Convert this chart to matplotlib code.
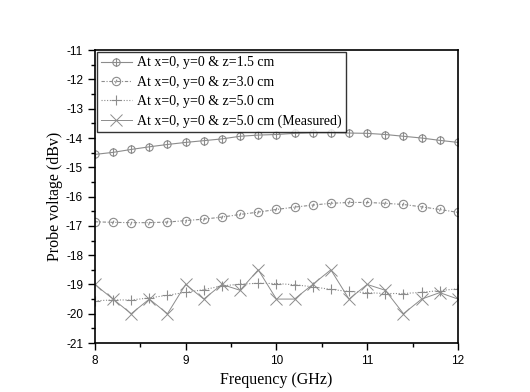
import matplotlib
matplotlib.use("Agg")
import matplotlib.pyplot as plt
from matplotlib.path import Path
from matplotlib.ticker import MultipleLocator

plt.rcParams["axes.unicode_minus"] = False

freq = [8.0, 8.2, 8.4, 8.6, 8.8, 9.0, 9.2, 9.4, 9.6, 9.8, 10.0,
        10.2, 10.4, 10.6, 10.8, 11.0, 11.2, 11.4, 11.6, 11.8, 12.0]
z15 = [-14.56, -14.49, -14.39, -14.30, -14.22, -14.15, -14.09, -14.03, -13.94, -13.90, -13.88,
       -13.84, -13.82, -13.82, -13.83, -13.84, -13.88, -13.94, -14.00, -14.08, -14.15]
z30 = [-16.86, -16.88, -16.89, -16.89, -16.87, -16.82, -16.77, -16.70, -16.61, -16.53, -16.44,
       -16.36, -16.29, -16.23, -16.20, -16.20, -16.23, -16.27, -16.35, -16.44, -16.54]
z50 = [-19.56, -19.53, -19.53, -19.46, -19.37, -19.27, -19.18, -19.05, -18.99, -18.96, -18.97,
       -19.01, -19.08, -19.17, -19.24, -19.28, -19.31, -19.31, -19.27, -19.21, -19.15]
z50m = [-19.0, -19.5, -20.0, -19.5, -20.0, -19.0, -19.5, -19.0, -19.2, -18.5, -19.5,
        -19.5, -19.0, -18.5, -19.5, -19.0, -19.2, -20.0, -19.5, -19.28, -19.5]
labels = ["At x=0, y=0 & z=1.5 cm", "At x=0, y=0 & z=3.0 cm",
          "At x=0, y=0 & z=5.0 cm", "At x=0, y=0 & z=5.0 cm (Measured)"]

gray = "#8c8c8c"

phi = Path.make_compound_path(Path.unit_circle(), Path([(0, -1.25), (0, 1.25)]))
circ_tick = Path.make_compound_path(Path.unit_circle(), Path([(-0.25, -0.45), (0.1, 0.45)]))

fig = plt.figure(figsize=(5.30, 3.92), dpi=100)
ax = fig.add_axes([0.179, 0.125, 0.685, 0.747])

ax.plot(freq, z15, color=gray, lw=0.8, ls="-", marker=phi, ms=6.5, mfc="none",
        mec=gray, mew=0.8, label=labels[0])
ax.plot(freq, z30, color=gray, lw=0.8, ls=(0, (3, 1.5, 1, 1.5)), marker=circ_tick, ms=6,
        mfc="none", mec=gray, mew=0.8, label=labels[1])
ax.plot(freq, z50, color=gray, lw=0.8, ls=(0, (1, 1.5)), marker="+", ms=7,
        mec=gray, mew=0.8, label=labels[2])
ax.plot(freq, z50m, color=gray, lw=0.7, ls="-", marker="x", ms=8,
        mec=gray, mew=0.7, label=labels[3])

ax.set_xlim(8, 12)
ax.set_ylim(-21, -11)
ax.xaxis.set_major_locator(MultipleLocator(1))
ax.xaxis.set_minor_locator(MultipleLocator(0.5))
ax.yaxis.set_major_locator(MultipleLocator(1))
ax.yaxis.set_minor_locator(MultipleLocator(0.5))
ax.tick_params(which="major", direction="out", length=5, width=1.0, labelsize=8.5,
               top=False, right=False)
ax.tick_params(which="minor", direction="out", length=3, width=1.0, top=False, right=False)
for lab in ax.get_xticklabels() + ax.get_yticklabels():
    lab.set_fontfamily("Liberation Sans")
for s in ax.spines.values():
    s.set_linewidth(1.2)

ax.set_xlabel("Frequency (GHz)", fontfamily="Liberation Serif", fontsize=11.5, labelpad=4)
ax.set_ylabel("Probe voltage (dBv)", fontfamily="Liberation Serif", fontsize=11.5, labelpad=2)

leg = ax.legend(loc="upper left", bbox_to_anchor=(0.0, 1.0), borderaxespad=0.15,
                prop={"family": "Liberation Serif", "size": 10}, frameon=True,
                fancybox=False, edgecolor="black", handlelength=2.2,
                handletextpad=0.4, labelspacing=0.45, borderpad=0.3)
leg.get_frame().set_linewidth(1.0)

fig.savefig("out.png", dpi=100)
